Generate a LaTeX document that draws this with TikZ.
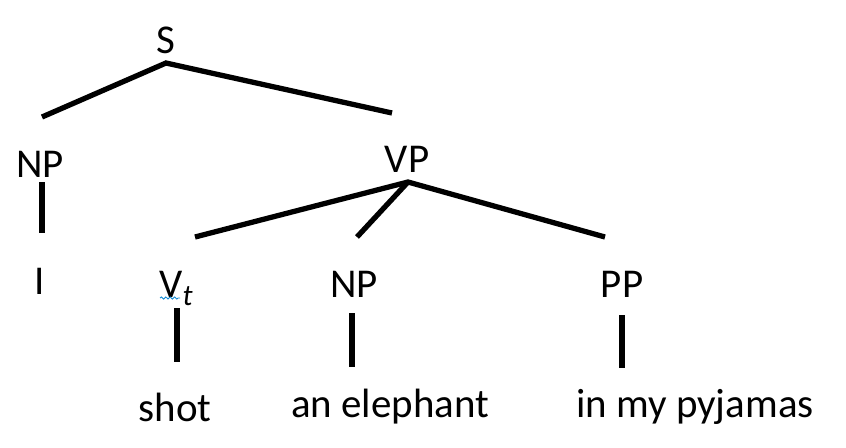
\documentclass[tikz,border=0pt]{standalone}
\usepackage{fontspec}
\setmainfont{Carlito}
\usepackage{tikz}
\usetikzlibrary{calc,decorations.pathmorphing}

\tikzset{
  label/.style={anchor=base,inner sep=0pt,font=\fontsize{23.3}{28}\selectfont},
  branch/.style={line width=3pt}
}

\begin{document}
\begin{tikzpicture}[x=0.02cm,y=-0.02cm]
            \useasboundingbox (0,0) rectangle (846,447);

            \node (nodeS) at (166,53) [label] {S};
            \node (nodeNPa) at (40,177) [label] {NP};
            \node (nodeVP) at (407,172) [label] {VP};
            \draw[branch] ($(nodeNPa.base)+(2,-60)$) -- ($(nodeS.base)+(0,10)$) -- ($(nodeVP.base)+(-15,-59)$);

            \node (nodeI) at (40,294) [label] {I};
            \draw[branch] ($(nodeNPa.base)+(2,5)$) -- ($(nodeI.base)+(2,-61)$);

            \node (nodeVt) at (176,297) [label] {V\raisebox{-0.45ex}{\fontsize{17}{17}\selectfont\itshape t}};
            \node (nodeNPb) at (354,297) [label] {NP};
            \node (nodePP) at (622,297) [label] {PP};
            \draw[branch] ($(nodeVt.base)+(19,-60)$) -- ($(nodeVP.base)+(1,10)$) -- ($(nodePP.base)+(-17,-60)$);
            \draw[branch] ($(nodeVP.base)+(1,10)$) -- ($(nodeNPb.base)+(3,-60)$);
            % spelling mark under the V
            \draw[cyan!70!blue,line width=0.5pt,decorate,decoration={snake,amplitude=0.6pt,segment length=2.5pt}]
                ($(nodeVt.base west)+(1,1)$) -- ($(nodeVt.base west)+(21,1)$);

            \node (nodeShot) at (175,421) [label] {shot};
            \node (nodeEleph) at (390,417) [label] {an elephant};
            \node (nodePyj) at (695,417) [label] {in my pyjamas};
            \draw[branch] ($(nodeVt.base)+(1,11)$) -- ($(nodeShot.base)+(2,-59)$);
            \draw[branch] ($(nodeNPb.base)+(-2,16)$) -- ($(nodeEleph.base)+(-38,-50)$);
            \draw[branch] ($(nodePP.base)+(0,18)$) -- ($(nodePyj.base)+(-73,-49)$);
        \end{tikzpicture}
\end{document}
